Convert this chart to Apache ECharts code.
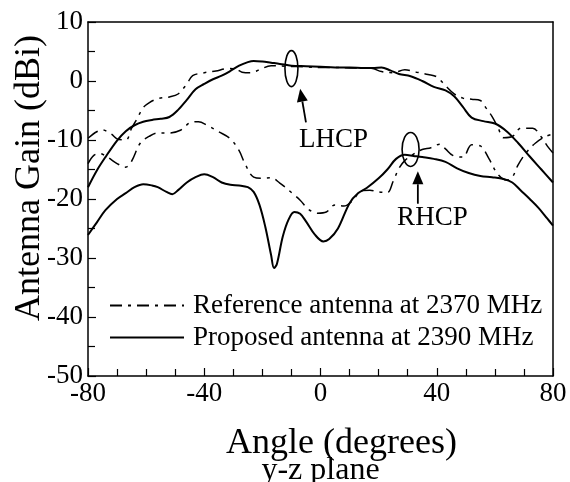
<!DOCTYPE html>
<html><head><meta charset="utf-8">
<script src="https://cdn.jsdelivr.net/npm/echarts@6/dist/echarts.min.js"></script>
<style>html,body{margin:0;padding:0;background:#fff}#c{width:570px;height:482px}</style>
</head><body><div id="c"></div>
<script>
// Proposed antenna (2390 MHz), LHCP
const propLhcpAngle = [-80,-77,-74,-70,-67,-64,-61,-58,-55,-52,-49,-46,-43,-40,-37,-34,-31,-28,-25,-23,-20,-17,-14,-10,-5,0,5,10,15,18,21,24,27,31,35,39,43,46,49,52,56,60,64,68,72,76,80];
const propLhcpGain  = [-18,-15.2,-12.9,-10.1,-8.5,-7.5,-6.9,-6.6,-6.4,-6.1,-4.9,-3.2,-1.4,-0.5,0.3,0.9,1.7,2.6,3.2,3.4,3.3,3.1,2.9,2.6,2.5,2.4,2.3,2.3,2.2,2.2,2.3,1.8,1.2,0.8,0,-1,-1.6,-2.6,-4.4,-6.2,-6.8,-7.2,-8.5,-10.5,-12.8,-15,-17.2];
// Proposed antenna (2390 MHz), RHCP
const propRhcpAngle = [-80,-77,-74,-70,-67,-64,-61,-58,-56,-53,-51,-49,-46,-43,-40,-37,-34,-31,-28,-25,-23,-21,-19,-17,-16,-15,-13,-11,-9,-7,-5,-2,1,3,6,10,13,16,20,23,26,29,32,35,39,43,47,51,55,59,63,66,69,72,75,78,80];
const propRhcpGain  = [-26.1,-24,-21.9,-20,-19,-18,-17.5,-17.7,-18,-18.8,-19.2,-18.5,-17.2,-16.3,-15.8,-16.3,-17.2,-17.6,-17.7,-18,-18.8,-21,-24.7,-29.5,-31.7,-31,-26.4,-23.5,-22.2,-22.5,-23.8,-26,-27.2,-26.8,-25,-20.7,-19,-18.1,-16.5,-15,-13.2,-12.5,-12.7,-12.9,-13.2,-13.7,-14.8,-15.6,-16.1,-16.3,-16.6,-17.2,-18.6,-20,-21.5,-23.3,-24.5];
// Reference antenna (2370 MHz), LHCP
const refLhcpAngle = [-80,-77,-75,-72,-70,-67,-65,-63,-61,-59,-56,-52,-49,-46,-44,-40,-36,-32,-29,-27,-24,-21,-17,-12,-5,0,5,10,15,18,21,25,29,33,37,40,43,46,49,52,55,57,59,61,63,66,69,73,76,78,80];
const refLhcpGain  = [-9.7,-8.6,-8.3,-9,-9.8,-10,-8,-6.3,-4.5,-3.7,-3,-2.7,-2.2,-0.5,0.9,1.4,1.7,2.1,2,1.5,1.4,1.9,2.6,2.5,2.4,2.3,2.3,2.2,2.2,2.1,1.6,1.4,1.9,1.5,1.1,0.7,-0.8,-2.2,-2.9,-3.1,-3.3,-4.6,-6,-7.8,-9.6,-9.4,-8,-8,-9.5,-11,-12.2];
// Reference antenna (2370 MHz), RHCP
const refRhcpAngle = [-80,-78,-76,-73,-70,-67,-65,-62,-59,-56,-52,-48,-45,-42,-39,-35,-31,-28,-26,-23,-20,-17,-14,-10,-7,-4,-1,2,5,8,11,14,17,20,23,25,27,29,32,35,38,41,43,45.5,49,52,55,58,61,64,66,68,71,74,77,80];
const refRhcpGain  = [-14,-12.6,-12.3,-13,-14,-14.6,-13.6,-10.5,-9.4,-8.8,-8.8,-8.3,-7.1,-6.9,-7.5,-8.6,-9.8,-11.8,-14,-16.3,-16.5,-16.4,-17.3,-18.9,-20.2,-21.8,-22.4,-22.2,-21,-21.2,-20.3,-18.6,-18.5,-18.8,-18.9,-17,-14.8,-13.5,-12.4,-11.6,-11.3,-10.7,-11.5,-12.6,-12.9,-10.8,-11,-13.2,-15.8,-16.8,-16.3,-14.2,-12,-10.5,-9.5,-9];

const refName = 'Reference antenna at 2370 MHz';
const propName = 'Proposed antenna at 2390 MHz';
const FONT = '"Liberation Serif", "Times New Roman", serif';
const dashPattern = [12, 6, 3, 6];

function pairs(a, g) { return a.map((x, i) => [x, g[i]]); }

const chart = echarts.init(document.getElementById('c'), null, { renderer: 'canvas' });

const solidStyle = { color: '#000', width: 2 };
const dashStyle = { color: '#000', width: 1.5, type: dashPattern };

function lineSeries(name, data, style) {
  return { name, type: 'line', data, smooth: 0.35, symbol: 'none', showSymbol: false, lineStyle: style, itemStyle: { color: '#000' }, animation: false, z: 3 };
}

chart.setOption({
  animation: false,
  backgroundColor: '#fff',
  grid: { left: 88, right: 17, top: 22, bottom: 106, containLabel: false, outerBoundsMode: 'none' },
  legend: {
    data: [refName, propName],
    orient: 'vertical', left: 104, top: 287,
    itemWidth: 74, itemHeight: 14, itemGap: 5,
    itemStyle: { opacity: 0 },
    textStyle: { fontFamily: FONT, fontSize: 27, color: '#000', padding: [0, 0, 0, 4] },
    inactiveColor: '#000'
  },
  xAxis: [{
    type: 'value', min: -80, max: 80, interval: 40,
    name: 'Angle (degrees)', nameLocation: 'middle', nameGap: 50, nameMoveOverlap: false,
    nameTextStyle: { fontFamily: FONT, fontSize: 36, color: '#000', padding: [0, 0, 0, 42] },
    axisLine: { show: true, onZero: false, lineStyle: { color: '#000', width: 1.5 } },
    axisTick: { show: true, inside: true, length: 8, lineStyle: { color: '#000', width: 1.2 } },
    minorTick: { show: true, splitNumber: 4, length: 7, lineStyle: { color: '#000', width: 1.2 } },
    axisLabel: { fontFamily: FONT, fontSize: 27, color: '#000', margin: 4 },
    splitLine: { show: false }
  }, {
    type: 'value', min: -80, max: 80, interval: 40, position: 'top',
    axisLine: { show: true, onZero: false, lineStyle: { color: '#000', width: 1.5 } },
    axisTick: { show: false }, axisLabel: { show: false }, splitLine: { show: false }
  }],
  yAxis: [{
    type: 'value', min: -50, max: 10, interval: 10,
    name: 'Antenna Gain (dBi)', nameLocation: 'middle', nameGap: 40, nameRotate: 90, nameMoveOverlap: false,
    nameTextStyle: { fontFamily: FONT, fontSize: 36, color: '#000', padding: [0, 0, 0, 42] },
    axisLine: { show: true, onZero: false, lineStyle: { color: '#000', width: 1.5 } },
    axisTick: { show: true, inside: true, length: 8, lineStyle: { color: '#000', width: 1.2 } },
    minorTick: { show: true, splitNumber: 2, length: 7, lineStyle: { color: '#000', width: 1.2 } },
    axisLabel: { fontFamily: FONT, fontSize: 27, color: '#000', margin: 5 },
    splitLine: { show: false }
  }, {
    type: 'value', min: -50, max: 10, interval: 10, position: 'right',
    axisLine: { show: true, onZero: false, lineStyle: { color: '#000', width: 1.5 } },
    axisTick: { show: false }, axisLabel: { show: false }, splitLine: { show: false }
  }],
  series: [
    lineSeries(refName, pairs(refLhcpAngle, refLhcpGain), dashStyle),
    lineSeries(refName, pairs(refRhcpAngle, refRhcpGain), dashStyle),
    lineSeries(propName, pairs(propLhcpAngle, propLhcpGain), solidStyle),
    lineSeries(propName, pairs(propRhcpAngle, propRhcpGain), solidStyle)
  ]
});

// annotations positioned through the chart's own coordinate conversion
function px(x, y) { return chart.convertToPixel({ gridIndex: 0 }, [x, y]); }
function arrow(tail, tip) {
  const dx = tip[0] - tail[0], dy = tip[1] - tail[1];
  const L = Math.hypot(dx, dy), ux = dx / L, uy = dy / L;
  const hl = 13, hw = 5.5;
  const base = [tip[0] - ux * hl, tip[1] - uy * hl];
  return [
    { type: 'line', shape: { x1: tail[0], y1: tail[1], x2: base[0], y2: base[1] }, style: { stroke: '#000', lineWidth: 1.8 }, z: 10 },
    { type: 'polygon', shape: { points: [tip, [base[0] - uy * hw, base[1] + ux * hw], [base[0] + uy * hw, base[1] - ux * hw]] }, style: { fill: '#000' }, z: 10 }
  ];
}
const lEll = px(-10, 2.1), rEll = px(31, -11.6);
const lTip = px(-7, -1.3), lTail = px(-5, -7.0);
const rTip = px(33.5, -15.3), rTail = px(33.5, -20.8);
const lTxt = px(4.5, -10), rTxt = px(38.5, -23.2);
const subTitle = px(0, -50);
chart.setOption({
  graphic: [
    { type: 'ellipse', shape: { cx: lEll[0], cy: lEll[1], rx: 6.5, ry: 18 }, style: { fill: 'none', stroke: '#000', lineWidth: 1.6 }, z: 10 },
    { type: 'ellipse', shape: { cx: rEll[0], cy: rEll[1], rx: 8.5, ry: 17 }, style: { fill: 'none', stroke: '#000', lineWidth: 1.6 }, z: 10 },
    ...arrow(lTail, lTip),
    ...arrow(rTail, rTip),
    { type: 'text', x: lTxt[0], y: lTxt[1], style: { text: 'LHCP', font: '27px ' + FONT, fill: '#000', align: 'center', verticalAlign: 'middle' }, z: 10 },
    { type: 'text', x: rTxt[0], y: rTxt[1], style: { text: 'RHCP', font: '27px ' + FONT, fill: '#000', align: 'center', verticalAlign: 'middle' }, z: 10 },
    { type: 'text', x: subTitle[0], y: 471, style: { text: 'y-z plane', font: '32px ' + FONT, fill: '#000', align: 'center', verticalAlign: 'middle' }, z: 10 }
  ]
});
</script>
</body></html>
